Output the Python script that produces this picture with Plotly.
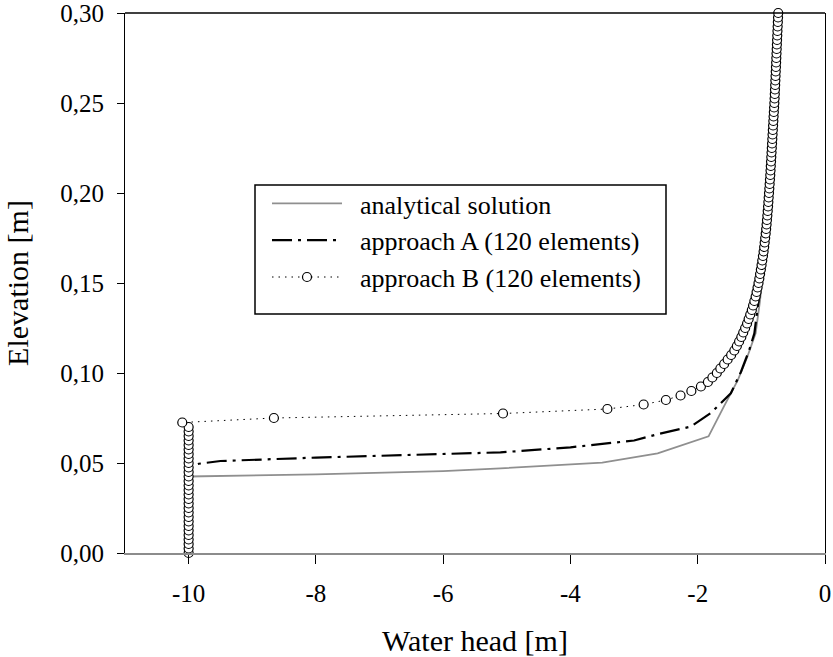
import plotly.graph_objects as go

# ---------------- data ----------------
# analytical solution
ana_head = [-10.0, -10.0, -8.0, -6.0, -5.1, -4.0, -3.5, -2.63, -1.83, -1.59, -1.37, -1.22,
            -1.09, -1.02, -0.96, -0.91, -0.87, -0.835, -0.80, -0.78, -0.76, -0.74]
ana_elev = [0.0, 0.0425, 0.0437, 0.0455, 0.047, 0.0494, 0.0502, 0.0553, 0.0648, 0.0813, 0.096, 0.109,
            0.122, 0.1405, 0.160, 0.180, 0.200, 0.220, 0.240, 0.260, 0.280, 0.300]

# approach A (120 elements)
a_head = [-10.0, -10.0, -9.84, -9.5, -8.0, -6.0, -5.1, -4.0, -3.0, -2.63, -2.11, -1.8, -1.48,
          -1.32, -1.19, -1.11, -1.06, -0.99, -0.93, -0.885, -0.85, -0.815, -0.79, -0.765, -0.745, -0.74]
a_elev = [0.0, 0.048, 0.0496, 0.0511, 0.0530, 0.0548, 0.0559, 0.0587, 0.0625, 0.066, 0.0702, 0.0776, 0.0887,
          0.1007, 0.1128, 0.122, 0.135, 0.155, 0.175, 0.195, 0.215, 0.235, 0.255, 0.275, 0.295, 0.300]

# approach B (120 elements) - nodal values
b_elev = [0.0000, 0.0025, 0.0050, 0.0075, 0.0100, 0.0125, 0.0150, 0.0175, 0.0200, 0.0225,
          0.0250, 0.0275, 0.0300, 0.0325, 0.0350, 0.0375, 0.0400, 0.0425, 0.0450, 0.0475,
          0.0500, 0.0525, 0.0550, 0.0575, 0.0600, 0.0625, 0.0650, 0.0675, 0.0700, 0.0725,
          0.0750, 0.0775, 0.0800, 0.0825, 0.0850, 0.0875, 0.0900, 0.0925, 0.0950, 0.0975,
          0.1000, 0.1025, 0.1050, 0.1075, 0.1100, 0.1125, 0.1150, 0.1175, 0.1200, 0.1225,
          0.1250, 0.1275, 0.1300, 0.1325, 0.1350, 0.1375, 0.1400, 0.1425, 0.1450, 0.1475,
          0.1500, 0.1525, 0.1550, 0.1575, 0.1600, 0.1625, 0.1650, 0.1675, 0.1700, 0.1725,
          0.1750, 0.1775, 0.1800, 0.1825, 0.1850, 0.1875, 0.1900, 0.1925, 0.1950, 0.1975,
          0.2000, 0.2025, 0.2050, 0.2075, 0.2100, 0.2125, 0.2150, 0.2175, 0.2200, 0.2225,
          0.2250, 0.2275, 0.2300, 0.2325, 0.2350, 0.2375, 0.2400, 0.2425, 0.2450, 0.2475,
          0.2500, 0.2525, 0.2550, 0.2575, 0.2600, 0.2625, 0.2650, 0.2675, 0.2700, 0.2725,
          0.2750, 0.2775, 0.2800, 0.2825, 0.2850, 0.2875, 0.2900, 0.2925, 0.2950, 0.2975,
          0.3000]
b_head = [-10.0, -10.0, -10.0, -10.0, -10.0, -10.0, -10.0, -10.0, -10.0, -10.0,
          -10.0, -10.0, -10.0, -10.0, -10.0, -10.0, -10.0, -10.0, -10.0, -10.0,
          -10.0, -10.0, -10.0, -10.0, -10.0, -10.0, -10.0, -10.0, -10.0, -10.1,
          -8.66, -5.06, -3.42, -2.85, -2.50, -2.27, -2.10, -1.95, -1.84, -1.77,
          -1.70, -1.645, -1.585, -1.53, -1.475, -1.425, -1.385, -1.35, -1.315, -1.285,
          -1.255, -1.225, -1.20, -1.175, -1.15, -1.13, -1.11, -1.09, -1.075, -1.06,
          -1.045, -1.032, -1.02, -1.008, -0.997, -0.986, -0.975, -0.965, -0.956, -0.948,
          -0.940, -0.932, -0.925, -0.918, -0.912, -0.906, -0.900, -0.895, -0.890, -0.885,
          -0.880, -0.875, -0.870, -0.865, -0.860, -0.856, -0.852, -0.848, -0.844, -0.840,
          -0.836, -0.832, -0.828, -0.824, -0.820, -0.816, -0.812, -0.808, -0.804, -0.800,
          -0.796, -0.792, -0.789, -0.786, -0.783, -0.780, -0.777, -0.774, -0.771, -0.768,
          -0.765, -0.762, -0.759, -0.756, -0.753, -0.750, -0.747, -0.744, -0.741, -0.738,
          -0.735]

x_ticks = [-10, -8, -6, -4, -2, 0]
x_tick_labels = ["-10", "-8", "-6", "-4", "-2", "0"]
y_ticks = [0.00, 0.05, 0.10, 0.15, 0.20, 0.25, 0.30]
y_tick_labels = ["0,00", "0,05", "0,10", "0,15", "0,20", "0,25", "0,30"]

FONT = "Liberation Serif"
NB = "\u00a0"

fig = go.Figure()
fig.add_trace(go.Scatter(
    x=ana_head, y=ana_elev, mode="lines", name=NB * 2 + "analytical solution",
    line=dict(color="#8f8f8f", width=1.8)))
fig.add_trace(go.Scatter(
    x=a_head, y=a_elev, mode="lines", name=NB * 2 + "approach A (120 elements)",
    line=dict(color="black", width=2.2, dash="20px,6px,3px,6px")))
fig.add_trace(go.Scatter(
    x=b_head, y=b_elev, mode="lines+markers", name=NB * 2 + "approach B (120 elements)",
    cliponaxis=False,
    line=dict(color="black", width=1, dash="1.5px,5px"),
    marker=dict(symbol="circle", size=9, color="white",
                line=dict(color="black", width=1.2))))

fig.update_layout(
    width=833, height=657,
    margin=dict(l=125, r=8, t=13, b=104, autoexpand=False),
    paper_bgcolor="white", plot_bgcolor="white",
    font=dict(family=FONT, size=25, color="black"),
    showlegend=True,
    legend=dict(
        x=(272 - 5 - 125) / 700, y=(553 - 180) / 540, xanchor="left", yanchor="top",
        bgcolor="rgba(0,0,0,0)", borderwidth=0,
        font=dict(family=FONT, size=26, color="black"),
        itemwidth=70, tracegroupgap=0,
    ),
    xaxis=dict(
        range=[-11, 0], tickvals=x_ticks, ticktext=x_tick_labels, ticks="outside", ticklen=9,
        tickcolor="black", showline=True, linecolor="#8c8c8c", linewidth=2,
        showgrid=False, zeroline=False, ticklabelstandoff=8, ticklabeloverflow="allow",
        automargin=False,
        title=dict(text="Water head [m]", standoff=28),
    ),
    yaxis=dict(
        range=[0, 0.3], tickvals=y_ticks, ticktext=y_tick_labels,
        ticks="outside", ticklen=7, tickcolor="black",
        showline=True, linecolor="black", linewidth=1.2, mirror=True,
        showgrid=False, zeroline=False, ticklabelstandoff=8, ticklabeloverflow="allow",
        automargin=False,
        title=dict(text="Elevation [m]", standoff=22),
    ),
    shapes=[
        dict(type="line", xref="paper", yref="paper", x0=0, x1=1, y0=1, y1=1,
             line=dict(color="black", width=1.5), layer="above"),
        dict(type="rect", xref="paper", yref="paper",
             x0=(255 - 125) / 700, x1=(666 - 125) / 700,
             y0=(553 - 314) / 540, y1=(553 - 185) / 540,
             line=dict(color="black", width=1.5), fillcolor="white", layer="below"),
    ],
)

fig.write_html("out.html")
